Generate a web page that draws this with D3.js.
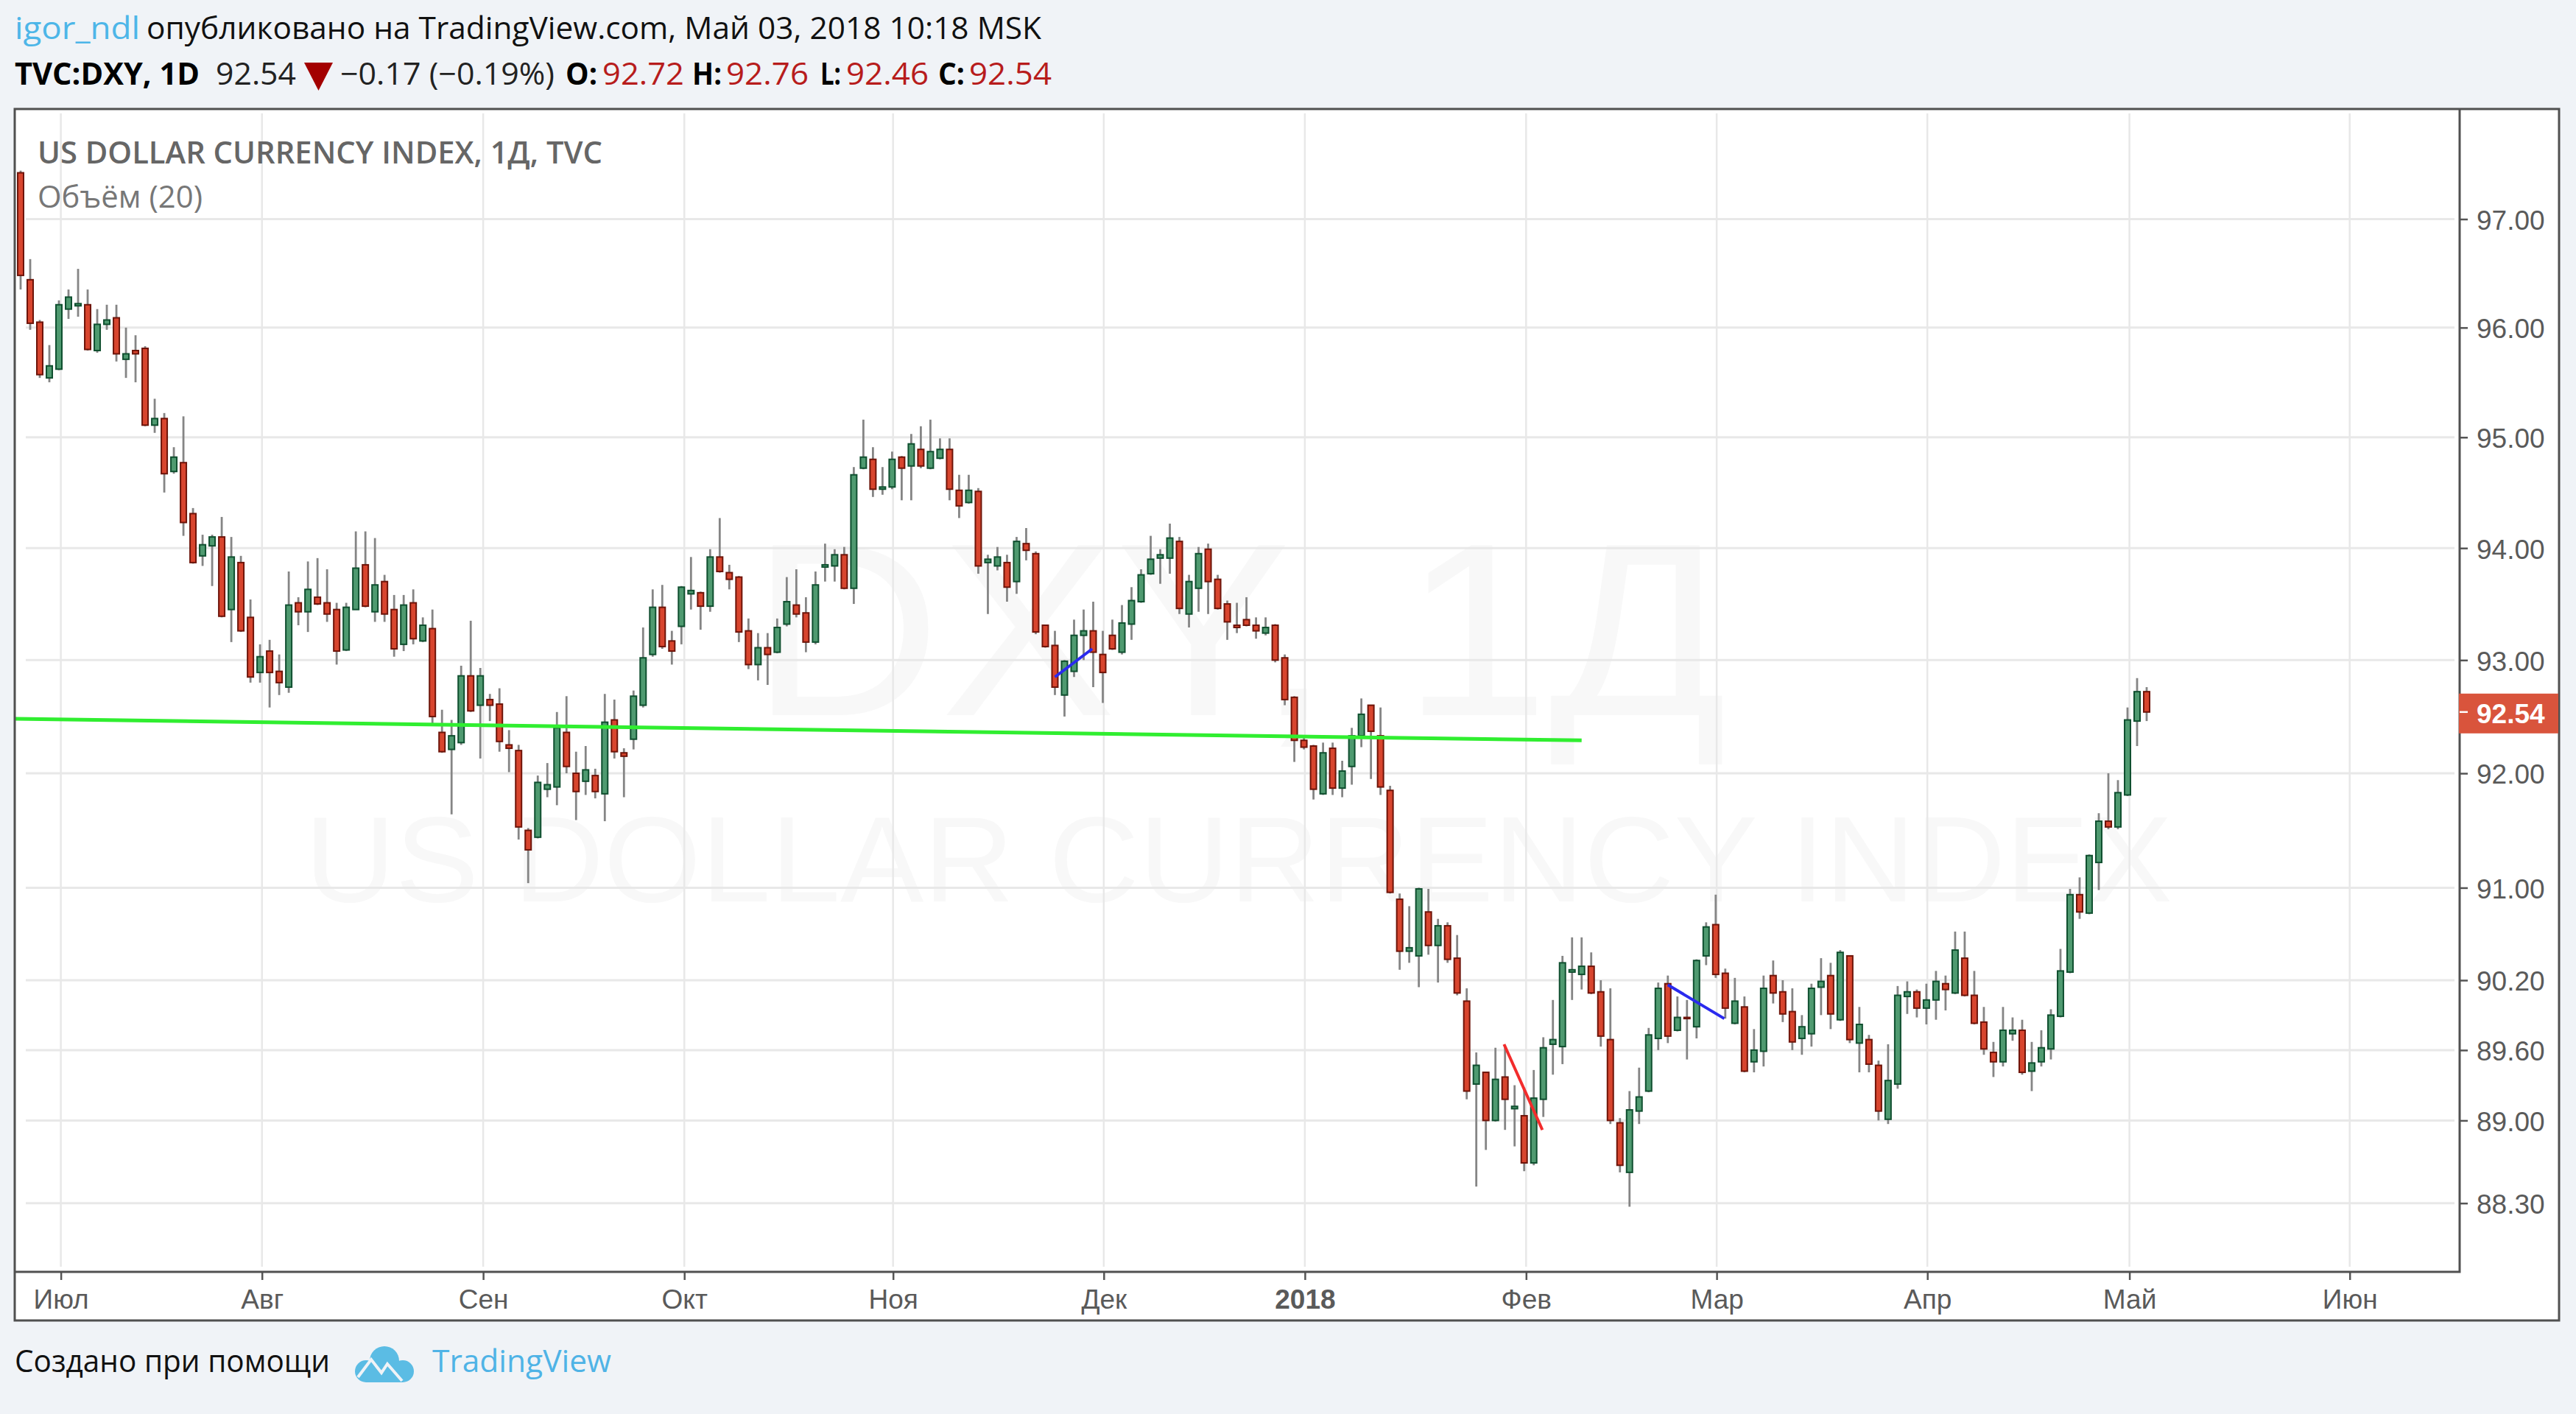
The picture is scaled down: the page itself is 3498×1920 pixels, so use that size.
<!DOCTYPE html>
<html lang="ru">
<head>
<meta charset="utf-8">
<title>DXY</title>
<script src="https://d3js.org/d3.v7.min.js"></script>
<style>
  html, body { margin: 0; padding: 0; background: #f0f3f7; }
  svg { display: block; }
  .axis text { font-family: "Liberation Sans", Arial, sans-serif; font-size: 37px; fill: #5a5a5a; }
  .axis line { stroke: #555; stroke-width: 2.5; }
  .axis path { display: none; }
  .head { font-family: "Open Sans", sans-serif; font-size: 42px; }
</style>
</head>
<body>
<svg id="chart" width="3498" height="1920"></svg>
<script>
// values, bar 0 is the first candle on the left
const barOpen = [
  97.43,96.44,96.05,95.54,95.62,96.17,96.20,96.21,95.79,96.03,
  96.09,95.71,95.79,95.81,95.11,95.17,94.69,94.77,94.31,93.93,
  94.02,94.10,93.45,93.87,93.38,92.89,93.08,92.90,92.76,93.51,
  93.43,93.56,93.51,93.45,93.09,93.45,93.85,93.43,93.70,93.45,
  93.14,93.51,93.17,93.28,92.36,92.21,92.27,92.86,92.60,92.65,
  92.61,92.25,92.20,91.50,91.44,91.86,91.88,92.36,92.00,91.93,
  91.98,91.82,92.47,92.18,92.30,92.60,93.05,93.47,93.17,93.30,
  93.59,93.60,93.48,93.92,93.78,93.74,93.26,92.96,93.11,93.07,
  93.32,93.49,93.42,93.16,93.83,93.84,93.94,93.64,94.72,94.80,
  94.53,94.55,94.82,94.74,94.89,94.72,94.81,94.89,94.52,94.41,
  94.51,93.87,93.84,93.87,93.70,94.04,93.95,93.31,93.13,92.69,
  92.90,93.22,93.26,93.05,93.22,93.07,93.32,93.52,93.77,93.91,
  93.91,94.06,93.41,93.64,93.99,93.72,93.50,93.31,93.36,93.31,
  93.24,93.31,93.02,92.67,92.29,92.24,91.82,92.22,91.87,92.06,
  92.33,92.60,92.33,91.85,90.90,90.45,90.41,90.79,90.50,90.67,
  90.39,90.02,89.31,89.41,89.00,89.37,89.10,89.04,88.64,89.18,
  89.65,89.63,90.27,90.25,90.32,90.10,89.69,88.98,88.56,89.08,
  89.25,89.70,90.17,89.77,89.88,89.80,90.41,90.68,90.26,89.83,
  89.97,89.50,89.59,90.24,90.10,89.93,89.70,89.74,90.14,90.24,
  89.86,90.41,89.66,89.69,89.47,89.01,89.31,90.06,90.10,89.96,
  90.03,90.17,90.09,90.39,90.07,89.84,89.58,89.50,89.74,89.77,
  89.42,89.50,89.61,89.89,90.27,90.94,90.78,91.22,91.58,91.53,
  91.81,92.46,92.72];
const barHigh = [
  97.45,96.63,96.07,95.84,96.25,96.35,96.54,96.35,96.17,96.21,
  96.21,96.00,95.93,95.83,95.35,95.22,94.91,95.19,94.36,94.12,
  94.12,94.28,94.10,93.93,93.54,93.14,93.18,93.05,93.79,93.56,
  93.88,93.91,93.81,93.51,93.51,94.15,94.15,94.09,93.76,93.58,
  93.58,93.63,93.38,93.45,92.56,92.47,92.95,93.35,92.93,92.70,
  92.75,92.38,92.25,91.52,91.98,92.09,92.54,92.68,92.19,92.24,
  92.04,92.70,92.65,92.22,92.73,93.29,93.63,93.67,93.26,93.66,
  93.92,93.61,93.99,94.27,93.85,93.75,93.37,93.24,93.24,93.37,
  93.74,93.81,93.56,93.79,94.04,93.99,94.01,94.73,95.16,94.91,
  94.73,94.87,94.83,95.03,95.10,95.16,94.99,94.99,94.66,94.66,
  94.54,93.94,94.01,93.94,94.10,94.18,93.97,93.31,93.26,93.00,
  93.36,93.45,93.52,93.26,93.36,93.49,93.65,93.81,94.11,93.99,
  94.22,94.10,93.76,94.01,94.04,93.76,93.53,93.51,93.56,93.38,
  93.38,93.32,93.05,92.68,92.33,92.25,92.27,92.27,92.11,92.40,
  92.66,92.60,92.58,91.89,90.95,90.84,91.00,90.99,90.73,90.70,
  90.59,90.13,89.58,89.41,89.62,89.64,89.30,89.28,89.43,89.71,
  90.03,90.41,90.57,90.57,90.44,90.20,90.13,89.02,89.25,89.45,
  89.79,90.18,90.24,90.06,90.03,90.38,90.70,90.94,90.30,90.22,
  90.06,89.78,90.24,90.37,90.20,90.13,89.90,90.17,90.39,90.35,
  90.46,90.41,89.97,89.73,89.51,89.65,90.15,90.19,90.12,90.17,
  90.28,90.24,90.62,90.62,90.28,89.97,89.67,89.97,89.88,89.86,
  89.67,89.77,89.95,90.47,90.99,91.09,91.29,91.65,92.00,91.94,
  92.58,92.84,92.76];
const barLow = [
  96.35,95.98,95.54,95.50,95.61,96.08,96.10,95.79,95.77,95.98,
  95.69,95.54,95.50,95.10,95.04,94.50,94.67,94.11,93.86,93.84,
  93.66,93.38,93.16,93.25,92.80,92.80,92.58,92.69,92.71,93.31,
  93.25,93.49,93.34,92.96,93.08,93.45,93.47,93.34,93.34,93.03,
  93.08,93.14,93.16,92.44,92.18,91.64,92.25,92.54,92.13,92.46,
  92.19,92.01,91.42,91.04,91.43,91.79,91.72,92.00,91.59,91.81,
  91.78,91.58,92.13,91.79,92.21,92.58,93.03,93.10,92.96,93.14,
  93.45,93.27,93.43,93.78,93.63,93.16,92.92,92.82,92.78,93.06,
  93.30,93.38,93.07,93.14,93.70,93.70,93.63,93.50,94.71,94.46,
  94.48,94.53,94.43,94.43,94.72,94.71,94.80,94.43,94.27,94.40,
  93.77,93.41,93.80,93.52,93.59,93.89,93.23,93.11,92.69,92.50,
  92.85,93.00,92.76,92.62,93.09,93.05,93.18,93.51,93.76,93.68,
  93.77,93.41,93.29,93.43,93.41,93.45,93.18,93.24,93.30,93.19,
  93.22,92.98,92.60,92.10,92.21,91.77,91.81,91.81,91.79,91.90,
  92.23,91.95,91.81,90.95,90.29,90.35,90.14,90.42,90.18,90.35,
  90.07,89.18,88.44,88.75,88.99,88.92,88.78,88.57,88.62,89.03,
  89.39,89.48,90.03,90.12,90.08,89.63,88.97,88.56,88.27,88.97,
  89.24,89.60,89.66,89.76,89.52,89.70,90.33,90.22,89.87,89.82,
  89.41,89.41,89.46,90.00,89.84,89.60,89.56,89.63,89.90,89.78,
  89.85,89.66,89.41,89.41,89.00,88.97,89.27,89.91,89.88,89.82,
  89.86,89.94,90.08,90.06,89.82,89.56,89.37,89.46,89.68,89.39,
  89.25,89.46,89.52,89.88,90.26,90.73,90.77,90.98,91.51,91.51,
  91.80,92.24,92.46];
const barClose = [
  96.48,96.04,95.57,95.65,96.21,96.28,96.22,95.80,96.03,96.07,
  95.76,95.76,95.76,95.11,95.17,94.67,94.82,94.23,93.87,94.03,
  94.10,93.39,93.92,93.26,92.85,93.03,92.89,92.80,93.49,93.43,
  93.63,93.50,93.41,93.08,93.47,93.82,93.48,93.67,93.41,93.10,
  93.49,93.19,93.31,92.50,92.19,92.33,92.86,92.55,92.86,92.60,
  92.28,92.22,91.53,91.33,91.92,91.90,92.40,92.06,91.84,92.03,
  91.84,92.45,92.19,92.15,92.68,93.02,93.47,93.12,93.08,93.65,
  93.62,93.48,93.92,93.79,93.72,93.25,92.96,93.11,93.05,93.29,
  93.52,93.41,93.16,93.67,93.85,93.94,93.64,94.66,94.82,94.53,
  94.55,94.80,94.72,94.94,94.74,94.87,94.89,94.53,94.38,94.52,
  93.84,93.90,93.92,93.65,94.06,93.98,93.25,93.12,92.76,92.99,
  93.22,93.26,93.07,92.89,93.10,93.33,93.53,93.76,93.90,93.94,
  94.09,93.46,93.70,93.95,93.70,93.46,93.34,93.29,93.31,93.26,
  93.29,93.00,92.65,92.29,92.23,91.86,92.18,91.87,92.02,92.33,
  92.52,92.37,91.88,90.96,90.45,90.48,90.99,90.50,90.67,90.38,
  90.09,89.25,89.47,89.00,89.35,89.18,89.12,88.64,89.19,89.62,
  89.69,90.35,90.29,90.32,90.09,89.72,89.00,88.62,89.09,89.20,
  89.73,90.13,89.72,89.88,89.87,90.37,90.66,90.25,89.96,90.02,
  89.42,89.60,90.13,90.09,89.91,89.67,89.80,90.13,90.19,89.91,
  90.44,89.69,89.82,89.48,89.08,89.34,90.07,90.10,89.96,90.03,
  90.19,90.12,90.46,90.07,89.83,89.61,89.50,89.77,89.77,89.41,
  89.49,89.62,89.90,90.28,90.94,90.79,91.28,91.58,91.53,91.83,
  92.47,92.72,92.54];

const priceTicks = [97, 96, 95, 94, 93, 92, 91, 90.2, 89.6, 89, 88.3];
const monthLabels = ["Июл", "Авг", "Сен", "Окт", "Ноя", "Дек", "2018", "Фев", "Мар", "Апр", "Май", "Июн"];
const monthBars = [4.2, 25.2, 48.3, 69.3, 91.1, 113.1, 134.1, 157.2, 177.1, 199.1, 220.2, 243.2];
const lastPrice = 92.54;

// drawn annotations: [bar, price] ends
const greenLine = [[-0.6, 92.48], [163, 92.29]];
const blueLineA = [[108, 92.85], [111.9, 93.10]];
const blueLineB = [[172, 90.16], [177.9, 89.87]];
const redLine = [[154.9, 89.65], [158.9, 88.92]];

const svg = d3.select("#chart");

// panel
const panel = { left: 20, top: 148, right: 3475, bottom: 1793, axisX: 3340, axisY: 1727 };

const x = d3.scaleLinear().domain([0, 222]).range([28, 2915]);
const y = d3.scaleLog().domain([97, 88.3]).range([297.5, 1633.7]);

svg.append("rect")
  .attr("x", panel.left).attr("y", panel.top)
  .attr("width", panel.right - panel.left).attr("height", panel.bottom - panel.top)
  .attr("fill", "white");

// watermark
svg.append("text").attr("x", 1020).attr("y", 971)
  .attr("textLength", 1325).attr("lengthAdjust", "spacingAndGlyphs")
  .style("font-family", "'Liberation Sans', sans-serif").style("font-size", "335px")
  .style("fill", "#f8f8f8").text("DXY, 1Д");
svg.append("text").attr("x", 414).attr("y", 1224)
  .attr("textLength", 2536).attr("lengthAdjust", "spacingAndGlyphs")
  .style("font-family", "'Liberation Sans', sans-serif").style("font-size", "166px")
  .style("fill", "#f8f8f8").text("US DOLLAR CURRENCY INDEX");

// grid
svg.append("g").selectAll("line").data(priceTicks).join("line")
  .attr("x1", 35).attr("x2", 3333)
  .attr("y1", d => y(d)).attr("y2", d => y(d))
  .attr("stroke", "#e8e8e8").attr("stroke-width", 3);
svg.append("g").selectAll("line").data(monthBars).join("line")
  .attr("x1", d => x(d)).attr("x2", d => x(d))
  .attr("y1", 154).attr("y2", 1720)
  .attr("stroke", "#e8e8e8").attr("stroke-width", 2.5);

// candles
const bars = d3.range(barOpen.length);
const isUp = i => barClose[i] >= barOpen[i];

svg.append("g").selectAll("line").data(bars).join("line")
  .attr("x1", i => x(i)).attr("x2", i => x(i))
  .attr("y1", i => y(barHigh[i])).attr("y2", i => y(barLow[i]))
  .attr("stroke", "#858585").attr("stroke-width", 2.8);

svg.append("g").selectAll("rect").data(bars).join("rect")
  .attr("x", i => x(i) - 4).attr("width", 8)
  .attr("y", i => y(Math.max(barOpen[i], barClose[i])))
  .attr("height", i => Math.max(1, Math.abs(y(barOpen[i]) - y(barClose[i]))))
  .attr("fill", i => isUp(i) ? "#4f9a70" : "#d8452e")
  .attr("stroke", i => isUp(i) ? "#0f4f2f" : "#6e1409")
  .attr("stroke-width", 2);

// annotations
const lineGen = d3.line().x(d => x(d[0])).y(d => y(d[1]));
const drawings = [
  { pts: greenLine, color: "#30ee30", w: 5 },
  { pts: blueLineA, color: "#2a2aee", w: 4 },
  { pts: blueLineB, color: "#2a2aee", w: 4 },
  { pts: redLine, color: "#f22c2c", w: 4 }
];
svg.append("g").selectAll("path").data(drawings).join("path")
  .attr("d", d => lineGen(d.pts))
  .attr("fill", "none")
  .attr("stroke", d => d.color).attr("stroke-width", d => d.w);

// axes
const yAxis = d3.axisRight(y).tickValues(priceTicks).tickFormat(d3.format(".2f")).tickSize(11).tickPadding(12);
const yg = svg.append("g").attr("class", "axis").attr("transform", `translate(${panel.axisX},0)`).call(yAxis);
yg.selectAll("text").attr("transform", "translate(0,2)");

const xAxis = d3.axisBottom(x).tickValues(monthBars).tickFormat((d, i) => monthLabels[i]).tickSize(11).tickPadding(13);
const xg = svg.append("g").attr("class", "axis").attr("transform", `translate(0,${panel.axisY})`).call(xAxis);
xg.selectAll("text").style("font-weight", (d, i) => monthLabels[i] === "2018" ? "bold" : "normal");

// frame lines
const frame = d3.path();
frame.rect(panel.left, panel.top, panel.right - panel.left, panel.bottom - panel.top);
frame.moveTo(panel.axisX, panel.top);
frame.lineTo(panel.axisX, panel.axisY);
frame.lineTo(panel.left, panel.axisY);
svg.append("path").attr("d", frame.toString()).attr("fill", "none").attr("stroke", "#505050").attr("stroke-width", 3);

// last price label
svg.append("rect").attr("x", 3339).attr("y", y(lastPrice) - 25)
  .attr("width", 135).attr("height", 54).attr("fill", "#d9543c");
svg.append("line").attr("x1", 3340).attr("x2", 3351)
  .attr("y1", y(lastPrice)).attr("y2", y(lastPrice))
  .attr("stroke", "white").attr("stroke-width", 2.5);
svg.append("text").attr("x", 3363).attr("y", y(lastPrice) + 15)
  .style("font-family", "'Liberation Sans', sans-serif").style("font-size", "37px")
  .style("font-weight", "bold").style("fill", "white").text(d3.format(".2f")(lastPrice));

// headings
function label(txt, xPos, yPos, color, weight, width) {
  const t = svg.append("text").attr("class", "head")
    .attr("x", xPos).attr("y", yPos)
    .style("fill", color).style("font-weight", weight || "normal")
    .text(txt);
  if (width) t.attr("textLength", width).attr("lengthAdjust", "spacingAndGlyphs");
  return t;
}

label("igor_ndl", 20, 53, "#4db6e8", "normal", 170);
label("опубликовано на TradingView.com, Май 03, 2018 10:18 MSK", 199, 53, "#111", "normal", 1215);

label("TVC:DXY, 1D", 20, 115, "#000", "bold", 251);
label("92.54", 293, 115, "#222", "normal", 109);
svg.append("path").attr("d", d3.line()([[413, 85], [452, 85], [432.5, 123]]) + "Z").attr("fill", "#a30000");
label("−0.17 (−0.19%)", 462, 115, "#222", "normal", 291);
label("O:", 768, 115, "#000", "bold", 43);
label("92.72", 818, 115, "#b71c1c", "normal", 111);
label("H:", 940, 115, "#000", "bold", 40);
label("92.76", 986, 115, "#b71c1c", "normal", 112);
label("L:", 1114, 115, "#000", "bold", 28);
label("92.46", 1149, 115, "#b71c1c", "normal", 112);
label("C:", 1274, 115, "#000", "bold", 36);
label("92.54", 1316, 115, "#b71c1c", "normal", 112);

label("US DOLLAR CURRENCY INDEX, 1Д, TVC", 51, 222, "#666", "600", 767);
label("Объём (20)", 51, 282, "#777", "normal", 224);

// footer
label("Создано при помощи", 20, 1863, "#111", "normal", 428);
label("TradingView", 587, 1863, "#4fb3e6", "normal", 243);

const logo = svg.append("g").attr("fill", "#5bbce4");
logo.append("circle").attr("cx", 522).attr("cy", 1848).attr("r", 20);
logo.append("circle").attr("cx", 497).attr("cy", 1862).attr("r", 15);
logo.append("circle").attr("cx", 547).attr("cy", 1862).attr("r", 15);
logo.append("rect").attr("x", 497).attr("y", 1856).attr("width", 50).attr("height", 21);
logo.append("path").attr("d", "M486,1870 L504,1846 L518,1864 L526,1852 L546,1875")
  .attr("fill", "none").attr("stroke", "#f0f3f7").attr("stroke-width", 4);
</script>
</body>
</html>
